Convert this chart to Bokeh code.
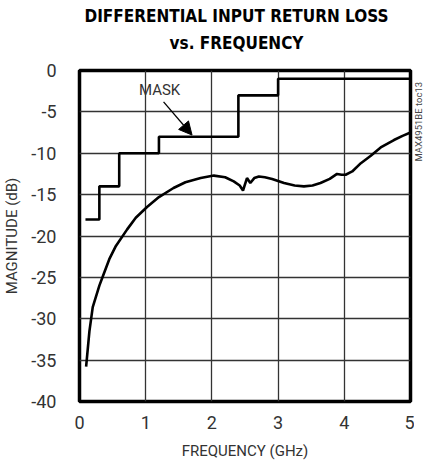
from bokeh.plotting import figure
from bokeh.models import Range1d, FixedTicker, Label, Arrow, NormalHead
from bokeh.layouts import column, row
from bokeh.embed import file_html
from bokeh.resources import INLINE
import math

# Mask (step)
mask_f = [0.09, 0.3, 0.3, 0.6, 0.6, 1.2, 1.2, 2.4, 2.4, 3.0, 3.0, 5.0]
mask_db = [-18, -18, -14, -14, -10, -10, -8, -8, -3, -3, -1, -1]

# Measured return loss
freq = [0.1, 0.15, 0.2, 0.3, 0.37, 0.45, 0.55, 0.72, 0.85, 1.02, 1.2, 1.42, 1.6, 1.83, 2.03, 2.2, 2.33,
        2.42, 2.47, 2.53, 2.58, 2.64, 2.71, 2.8, 2.91, 3.09, 3.25, 3.39, 3.52, 3.64, 3.78, 3.89, 3.96,
        4.02, 4.12, 4.25, 4.4, 4.55, 4.75, 4.88, 5.0]
mag = [-35.8, -31.5, -28.6, -26.0, -24.5, -22.8, -21.2, -19.2, -17.8, -16.5, -15.3, -14.2, -13.5, -13.0,
       -12.7, -12.9, -13.4, -13.9, -14.5, -13.0, -13.6, -13.0, -12.8, -12.9, -13.1, -13.6, -13.9, -14.0,
       -13.9, -13.6, -13.1, -12.5, -12.6, -12.6, -12.2, -11.2, -10.3, -9.3, -8.4, -7.9, -7.5]

x_ticks = [0, 1, 2, 3, 4, 5]
y_ticks = [0, -5, -10, -15, -20, -25, -30, -35, -40]
y_tick_labels = {t: "%d" % t for t in y_ticks}

title_lines = ["DIFFERENTIAL INPUT RETURN LOSS", "vs. FREQUENCY"]
side_code = "MAX4951BE toc13"

tick_font = "Roboto"
title_font = "DejaVu Sans Condensed"
txt_col = "#333333"

TOP_H = 56
MAIN_W = 71 + 331 + 4
SIDE_W = 10
MAIN_H = 14 + 331 + 60

# ---- main chart ----
p = figure(frame_width=331, frame_height=331, output_backend="svg", toolbar_location=None,
           x_range=Range1d(0, 5), y_range=Range1d(-40, 0), title=None,
           min_border_left=71, min_border_right=4, min_border_top=14, min_border_bottom=60)

p.outline_line_color = "black"
p.outline_line_width = 3.5
p.background_fill_color = "white"

for ax in (p.xaxis[0], p.yaxis[0]):
    ax.axis_line_color = None
    ax.major_tick_line_color = None
    ax.minor_tick_line_color = None
    ax.major_label_text_font = tick_font
    ax.major_label_text_font_size = "18px"
    ax.major_label_text_color = txt_col
    ax.axis_label_text_font = tick_font
    ax.axis_label_text_font_size = "15px"
    ax.axis_label_text_font_style = "normal"
    ax.axis_label_text_color = txt_col

p.xaxis.ticker = FixedTicker(ticks=x_ticks)
p.yaxis.ticker = FixedTicker(ticks=y_ticks)
p.yaxis.major_label_overrides = {t: lab for t, lab in y_tick_labels.items()}
p.xaxis.axis_label = "FREQUENCY (GHz)"
p.yaxis.axis_label = "MAGNITUDE (dB)"
p.xaxis.major_label_standoff = 8
p.yaxis.major_label_standoff = 17
p.xaxis.axis_label_standoff = 10
p.yaxis.axis_label_standoff = 7

p.grid.grid_line_color = "#333333"
p.grid.grid_line_width = 1.3
p.grid.grid_line_alpha = 1

p.line(mask_f, mask_db, line_color="black", line_width=2.6)
p.line(freq, mag, line_color="black", line_width=2.6)

p.add_layout(Label(x=1.21, y=-2.4, text="MASK", text_font=tick_font, text_font_size="15px",
                   text_align="center", text_baseline="middle", text_color=txt_col))
p.add_layout(Arrow(x_start=1.27, y_start=-3.8, x_end=1.70, y_end=-7.8, line_width=1.3,
                   end=NormalHead(size=13, fill_color="black", line_color="black")))

# ---- title strip ----
t = figure(width=MAIN_W + SIDE_W, height=TOP_H, output_backend="svg", toolbar_location=None,
           x_range=Range1d(0, MAIN_W + SIDE_W), y_range=Range1d(0, TOP_H), title=None,
           x_axis_type=None, y_axis_type=None, min_border=0)
t.outline_line_color = None
t.add_layout(Label(x=236, y=TOP_H - 15, text=title_lines[0], text_font=title_font, text_font_size="17px",
                   text_font_style="bold", text_align="center", text_baseline="middle", text_color="black"))
t.add_layout(Label(x=236, y=TOP_H - 42, text=title_lines[1], text_font=title_font, text_font_size="17px",
                   text_font_style="bold", text_align="center", text_baseline="middle", text_color="black"))

# ---- side strip with the reference code, reading bottom-to-top ----
s = figure(width=SIDE_W, height=MAIN_H, output_backend="svg", toolbar_location=None,
           x_range=Range1d(0, SIDE_W), y_range=Range1d(0, MAIN_H), title=None,
           x_axis_type=None, y_axis_type=None, min_border=0)
s.outline_line_color = None
s.add_layout(Label(x=4, y=MAIN_H - 14, text=side_code, text_font=tick_font, text_font_size="9.5px",
                   angle=math.pi / 2, text_align="right", text_baseline="middle", text_color="#444444"))

layout = column(t, row(p, s, spacing=0), spacing=0)

open("out.html", "w").write(file_html(layout, INLINE))
